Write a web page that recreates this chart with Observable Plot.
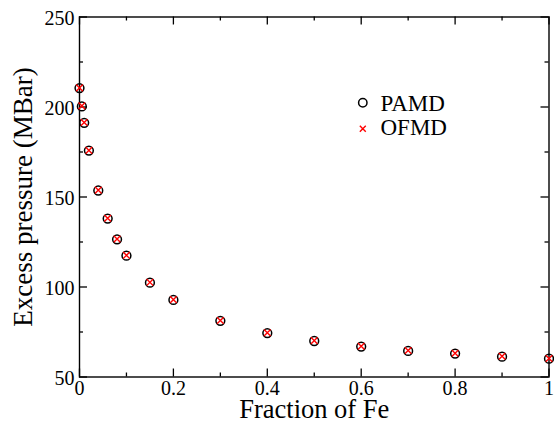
<!DOCTYPE html>
<html>
<head>
<meta charset="utf-8">
<script src="https://cdn.jsdelivr.net/npm/d3@7"></script>
<script src="https://cdn.jsdelivr.net/npm/@observablehq/plot@0.6"></script>
<style>
  html, body { margin: 0; padding: 0; background: white; }
  svg text { font-family: "Liberation Serif", "Times New Roman", serif; font-variant: normal; }
</style>
</head>
<body>
<div id="chart"></div>
<script>
const fraction = [0, 0.005, 0.01, 0.02, 0.04, 0.06, 0.08, 0.1, 0.15, 0.2, 0.3, 0.4, 0.5, 0.6, 0.7, 0.8, 0.9, 1.0];
const pamd = [210.5, 200.3, 191.2, 175.8, 153.6, 138.0, 126.5, 117.4, 102.4, 92.8, 81.2, 74.4, 70.0, 66.9, 64.5, 63.0, 61.3, 60.2];
const ofmd = [210.6, 200.6, 191.4, 175.9, 153.8, 138.2, 126.7, 117.6, 102.6, 93.0, 81.4, 74.6, 70.2, 67.1, 64.7, 63.2, 61.5, 60.3];
const xMajor = [0, 0.2, 0.4, 0.6, 0.8, 1];
const xMinor = [0.1, 0.3, 0.5, 0.7, 0.9];
const yMajor = [50, 100, 150, 200, 250];
const yMinor = [75, 125, 175, 225];
const xTickLabels = ["0", "0.2", "0.4", "0.6", "0.8", "1"];
const yTickLabels = ["50", "100", "150", "200", "250"];
const seriesNames = ["PAMD", "OFMD"];
const xTitle = "Fraction of Fe";
const yTitle = "Excess pressure (MBar)";

const W = 554, H = 424;
const mL = 79, mR = 5.5, mT = 16.5, mB = 47.5;
const pw = W - mL - mR, ph = H - mT - mB;
const major = 8, minor = 4;
const serif = "Liberation Serif";

const pamdData = fraction.map((x, i) => ({x, y: pamd[i]}));
const ofmdData = fraction.map((x, i) => ({x, y: ofmd[i]}));
const xTicks = xMajor.map((v, i) => ({v, label: xTickLabels[i]}));
const yTicks = yMajor.map((v, i) => ({v, label: yTickLabels[i]}));

const tickStyle = {stroke: "black", strokeWidth: 1.3};

const chart = Plot.plot({
  width: W, height: H,
  marginLeft: mL, marginRight: mR, marginTop: mT, marginBottom: mB,
  x: {domain: [0, 1], axis: null},
  y: {domain: [50, 250], axis: null},
  style: {fontFamily: serif, background: "white", color: "black"},
  marks: [
    // inward ticks: bottom/top
    Plot.tickX(xMajor, {x: d => d, insetTop: ph - major, ...tickStyle}),
    Plot.tickX(xMajor, {x: d => d, insetBottom: ph - major, ...tickStyle}),
    Plot.tickX(xMinor, {x: d => d, insetTop: ph - minor, ...tickStyle}),
    Plot.tickX(xMinor, {x: d => d, insetBottom: ph - minor, ...tickStyle}),
    // inward ticks: left/right
    Plot.tickY(yMajor, {y: d => d, insetRight: pw - major, ...tickStyle}),
    Plot.tickY(yMajor, {y: d => d, insetLeft: pw - major, ...tickStyle}),
    Plot.tickY(yMinor, {y: d => d, insetRight: pw - minor, ...tickStyle}),
    Plot.tickY(yMinor, {y: d => d, insetLeft: pw - minor, ...tickStyle}),
    Plot.frame({stroke: "black", strokeWidth: 1.4}),
    // tick labels
    Plot.text(xTicks, {x: "v", frameAnchor: "bottom", dy: 11.5, text: "label", fontSize: 20, fontFamily: serif, lineAnchor: "middle", textAnchor: "middle", fill: "black"}),
    Plot.text(yTicks, {y: "v", frameAnchor: "left", dx: -5, dy: 2, text: "label", fontSize: 20, fontFamily: serif, lineAnchor: "middle", textAnchor: "end", fill: "black"}),
    Plot.dot(pamdData, {x: "x", y: "y", r: 4.4, stroke: "black", strokeWidth: 1.5, fill: "none"}),
    Plot.dot(ofmdData, {x: "x", y: "y", symbol: "times", r: 3.1, stroke: "red", strokeWidth: 1.4}),
    // axis titles
    Plot.text([xTitle], {frameAnchor: "bottom", dy: 33, fontSize: 26.5, fontFamily: serif, lineAnchor: "middle", textAnchor: "middle", fill: "black"}),
    Plot.text([yTitle], {frameAnchor: "left", dx: -56.6, rotate: -90, fontSize: 27, fontFamily: serif, lineAnchor: "middle", textAnchor: "middle", fill: "black"}),
    // legend
    Plot.dot([seriesNames[0]], {frameAnchor: "top-left", dx: 283.3, dy: 85.8, r: 4.2, stroke: "black", strokeWidth: 1.5, fill: "none"}),
    Plot.dot([seriesNames[1]], {frameAnchor: "top-left", dx: 283.3, dy: 111.8, symbol: "times", r: 2.8, stroke: "red", strokeWidth: 1.4}),
    Plot.text([seriesNames[0]], {frameAnchor: "top-left", dx: 301, dy: 86.8, text: d => d, fontSize: 23, fontFamily: serif, textAnchor: "start", lineAnchor: "middle", fill: "black"}),
    Plot.text([seriesNames[1]], {frameAnchor: "top-left", dx: 301, dy: 111.1, text: d => d, fontSize: 23, fontFamily: serif, textAnchor: "start", lineAnchor: "middle", fill: "black"})
  ]
});
document.getElementById("chart").appendChild(chart);
</script>
</body>
</html>
